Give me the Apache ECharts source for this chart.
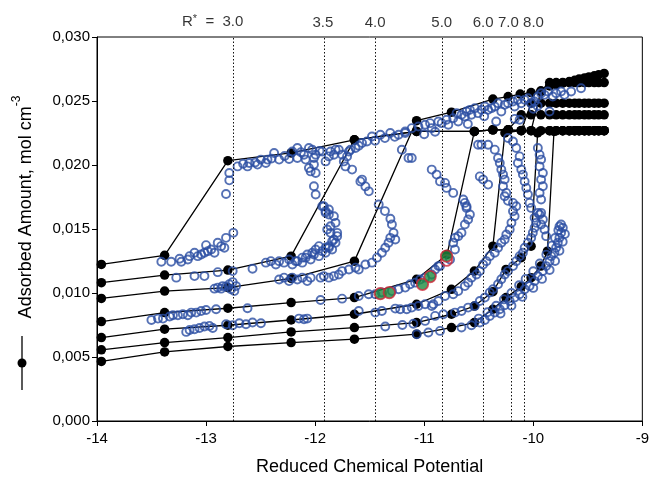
<!DOCTYPE html>
<html><head><meta charset="utf-8">
<script src="https://cdn.jsdelivr.net/npm/echarts@6/dist/echarts.min.js"></script>
<style>html,body{margin:0;padding:0;background:#fff}#c{width:652px;height:481px}</style>
</head><body><div id="c"></div>
<script>
const FONT = 'Liberation Sans, Arial, Helvetica, sans-serif';
// R* values and positions of the dotted lines (reduced chemical potential)
const rStarLabels = ['3.0','3.5','4.0','5.0','6.0','7.0','8.0'];
const rStarMu = [-12.75,-11.92,-11.45,-10.83,-10.46,-10.20,-10.08];
const yTicks = [0,0.005,0.010,0.015,0.020,0.025,0.030];

// Black isotherms (filled markers + line), one per R*
const iso30 = [[-13.96,0.01223],[-13.38,0.01294],[-12.80,0.02034],[-12.22,0.02094],[-11.64,0.02197],[-11.07,0.02262],[-10.54,0.02262],[-10.37,0.02275],[-10.23,0.02275],[-10.11,0.02268],[-10.02,0.02268],[-9.93,0.02268],[-9.85,0.02268],[-9.79,0.02268],[-9.73,0.02268],[-9.67,0.02268],[-9.62,0.02268],[-9.58,0.02268],[-9.53,0.02268],[-9.49,0.02268],[-9.44,0.02268],[-9.40,0.02268],[-9.35,0.02268]];
const iso35 = [[-13.96,0.01081],[-13.38,0.0114],[-12.80,0.01179],[-12.22,0.01288],[-11.64,0.02197],[-11.07,0.02262],[-10.54,0.02262],[-10.37,0.02275],[-10.23,0.02275],[-10.11,0.02392],[-10.02,0.02392],[-9.93,0.02392],[-9.85,0.02392],[-9.79,0.02392],[-9.73,0.02392],[-9.67,0.02392],[-9.62,0.02392],[-9.58,0.02392],[-9.53,0.02392],[-9.49,0.02392],[-9.44,0.02392],[-9.40,0.02392],[-9.35,0.02392]];
const iso40 = [[-13.96,0.00958],[-13.38,0.01015],[-12.80,0.01042],[-12.22,0.01115],[-11.64,0.01249],[-11.07,0.02346],[-10.75,0.02413],[-10.37,0.02515],[-10.23,0.02535],[-10.12,0.02554],[-10.02,0.02566],[-9.93,0.02574],[-9.85,0.02618],[-9.79,0.02628],[-9.73,0.0264],[-9.67,0.02652],[-9.62,0.02662],[-9.58,0.02672],[-9.53,0.0268],[-9.49,0.02688],[-9.44,0.02697],[-9.40,0.02705],[-9.35,0.02715]];
const iso50 = [[-13.96,0.00777],[-13.38,0.00847],[-12.80,0.00881],[-12.22,0.00925],[-11.64,0.00964],[-11.07,0.01107],[-10.79,0.01301],[-10.54,0.02262],[-10.37,0.02275],[-10.23,0.02275],[-10.11,0.02268],[-10.02,0.02268],[-9.93,0.0258],[-9.85,0.02644],[-9.79,0.02644],[-9.73,0.02644],[-9.67,0.02644],[-9.62,0.02644],[-9.58,0.02644],[-9.53,0.02644],[-9.49,0.02644],[-9.44,0.02644],[-9.40,0.02644],[-9.35,0.02644]];
const iso60 = [[-13.96,0.00652],[-13.38,0.00717],[-12.80,0.00748],[-12.22,0.00789],[-11.64,0.00834],[-11.07,0.00912],[-10.75,0.01029],[-10.54,0.01171],[-10.37,0.01366],[-10.26,0.0225],[-10.11,0.0227],[-10.02,0.02483],[-9.93,0.02483],[-9.85,0.02483],[-9.79,0.02483],[-9.73,0.02483],[-9.67,0.02483],[-9.62,0.02483],[-9.58,0.02483],[-9.53,0.02483],[-9.49,0.02483],[-9.44,0.02483],[-9.40,0.02483],[-9.35,0.02483]];
const iso70 = [[-13.96,0.00556],[-13.38,0.00613],[-12.80,0.00652],[-12.22,0.00696],[-11.64,0.0073],[-11.07,0.00769],[-10.75,0.00834],[-10.54,0.00898],[-10.37,0.0101],[-10.25,0.01184],[-10.11,0.01276],[-10.02,0.01366],[-9.96,0.0225],[-9.85,0.02268],[-9.79,0.02268],[-9.73,0.02268],[-9.67,0.02268],[-9.62,0.02268],[-9.58,0.02268],[-9.53,0.02268],[-9.49,0.02268],[-9.44,0.02268],[-9.40,0.02268],[-9.35,0.02268]];
const iso80 = [[-13.96,0.00465],[-13.38,0.0054],[-12.80,0.00582],[-12.22,0.00613],[-11.64,0.00639],[-11.07,0.00678],[-10.75,0.0073],[-10.54,0.00769],[-10.37,0.00873],[-10.25,0.00964],[-10.11,0.0105],[-10.02,0.0112],[-9.93,0.0121],[-9.87,0.01327],[-9.81,0.02262],[-9.73,0.02268],[-9.67,0.02268],[-9.62,0.02268],[-9.58,0.02268],[-9.53,0.02268],[-9.49,0.02268],[-9.44,0.02268],[-9.40,0.02268],[-9.35,0.02268]];

// Blue open circles (simulation points)
const blue30 = [[-13.41,0.01244],[-13.32,0.01244],[-13.243,0.01268],[-13.227,0.01244],[-13.167,0.01262],[-13.151,0.01288],[-13.106,0.01315],[-13.076,0.01288],[-13.045,0.01301],[-13.015,0.01315],[-13.0,0.01374],[-12.984,0.01327],[-12.953,0.0134],[-12.923,0.01315],[-12.893,0.01392],[-12.862,0.01366],[-12.832,0.01353],[-12.817,0.01431],[-12.75,0.0147],[-12.787,0.01938],[-12.787,0.0188],[-12.817,0.01774]];
const blueUpper = [[-12.711,0.01989],[-12.62,0.01989],[-12.604,0.02016],[-12.528,0.02003],[-12.497,0.02042],[-12.452,0.02016],[-12.437,0.02042],[-12.376,0.02094],[-12.33,0.02042],[-12.239,0.02047],[-12.209,0.02106],[-12.163,0.02133],[-12.163,0.02055],[-12.102,0.0208],[-12.087,0.02042],[-12.026,0.02119],[-12.011,0.02055],[-12.011,0.02003],[-11.995,0.0208],[-11.904,0.02028],[-11.859,0.02106],[-11.828,0.0208],[-11.783,0.02119],[-11.737,0.02028],[-11.722,0.01989],[-11.707,0.02067],[-11.676,0.02119],[-11.479,0.02223],[-11.402,0.02236],[-11.311,0.0225],[-11.235,0.02236],[-11.174,0.0225],[-12.057,0.02133],[-11.935,0.02106],[-11.874,0.02067],[-11.813,0.0212],[-11.752,0.0208],[-11.69,0.02106],[-11.63,0.02133],[-11.57,0.02172],[-11.525,0.02184],
[-11.174,0.02262],[-11.114,0.02288],[-11.053,0.02301],[-10.992,0.02314],[-10.946,0.02327],[-10.931,0.02288],[-10.87,0.0234],[-10.84,0.02327],[-10.795,0.02353],[-10.779,0.02314],[-10.734,0.02366],[-10.703,0.02405],[-10.688,0.0234],[-10.658,0.02392],[-10.627,0.02379],[-10.612,0.02418],[-10.581,0.02431],[-10.567,0.02392],[-10.536,0.02444],[-10.506,0.02405],[-10.475,0.02431],[-10.444,0.02457],[-10.414,0.02431],[-10.384,0.02444],[-10.353,0.02457],[-10.323,0.02483],[-10.293,0.02418],[-10.262,0.0247],[-10.232,0.02483],[-10.186,0.02496],[-10.171,0.02457],[-10.141,0.02509],[-10.11,0.02483],[-10.079,0.02509],[-10.049,0.02522],[-10.019,0.02483],[-9.988,0.02496],[-9.958,0.02535],[-9.928,0.02561],[-9.897,0.02548],[-9.867,0.02574],[-9.851,0.02418],[-9.821,0.02535],[-9.791,0.02561],[-9.745,0.02574],[-9.714,0.02548],[-9.653,0.02574],[-9.562,0.026],
[-10.34,0.0234],[-10.17,0.0236],[-10.125,0.02353],[-9.96,0.0246],[-10.0,0.0244],[-10.45,0.0238],[-10.6,0.0232],[-10.9,0.0226],[-11.0,0.0224],
[-12.66,0.0201],[-12.55,0.0202],[-12.40,0.0205],[-12.28,0.0207],[-12.13,0.0210],[-11.96,0.0211],[-11.60,0.0215],[-11.45,0.0219],[-11.36,0.0221],[-11.27,0.0222]];
const blue35 = [[-13.273,0.0112],[-13.106,0.01132],[-13.015,0.01132],[-12.893,0.01163],[-12.756,0.01171],[-12.574,0.0119],[-12.452,0.01237],[-12.406,0.01249],[-12.36,0.01223],[-12.33,0.01249],[-12.285,0.01237],[-12.239,0.01262],[-12.209,0.01223],[-12.163,0.01249],[-12.118,0.01237],[-12.087,0.01276],[-12.041,0.01262],[-12.011,0.01301],[-11.965,0.01288],[-11.935,0.01327],[-11.904,0.01315],[-11.874,0.01354],[-11.844,0.0134],[-11.813,0.01392],[-11.798,0.01444],[-11.859,0.0147],[-11.828,0.01418],[-11.889,0.01496],[-11.813,0.01548],[-11.828,0.016],[-11.874,0.01652],[-11.92,0.01678],[-11.904,0.01626],[-11.859,0.01522],[-11.798,0.0147],[-11.844,0.01405],[-11.874,0.01366],[-11.904,0.01353],[-12.178,0.01249],[-12.118,0.01276],[-12.072,0.01301],[-12.026,0.01315],[-11.995,0.0134],[-11.965,0.01366],
[-12.057,0.01977],[-12.041,0.0195],[-11.995,0.01938],[-12.011,0.01834],[-11.995,0.01769],[-11.935,0.01678],[-11.904,0.01639],[-11.874,0.01613]];
const blue40 = [[-12.923,0.01034],[-12.893,0.01042],[-12.862,0.01034],[-12.848,0.01054],[-12.817,0.0105],[-12.787,0.01068],[-12.771,0.01029],[-12.756,0.01085],[-12.725,0.01054],[-12.741,0.01015],[-12.33,0.01106],[-12.285,0.0112],[-12.239,0.01093],[-12.209,0.0112],[-12.163,0.01106],[-12.118,0.0112],[-12.072,0.01093],[-12.041,0.0112],[-11.95,0.0112],[-11.92,0.01132],[-11.874,0.0112],[-11.828,0.01132],[-11.783,0.01145],[-11.752,0.01171],[-11.69,0.01184],[-11.63,0.01198],[-11.539,0.01223],[-11.6,0.01184],[-11.479,0.01237],[-11.433,0.01276],[-11.388,0.01315],[-11.357,0.01353],[-11.327,0.01392],[-11.311,0.01431],[-11.281,0.0147],[-11.296,0.01535],[-11.265,0.01418],
[-11.661,0.01964],[-11.57,0.01886],[-11.585,0.01872],[-11.539,0.01833],[-11.508,0.01794],[-11.417,0.01691],[-11.36,0.0164],[-11.31,0.0158]];
const blue50 = [[-13.501,0.00789],[-13.441,0.008],[-13.395,0.008],[-13.334,0.00816],[-13.304,0.00826],[-13.258,0.00826],[-13.213,0.00834],[-13.167,0.00826],[-13.136,0.00847],[-13.09,0.00847],[-13.045,0.00859],[-13.0,0.00867],[-12.908,0.00873],[-12.62,0.00881],[-11.95,0.00945],[-11.753,0.00956],[-11.6,0.00976],[-11.509,0.0099],[-11.448,0.0099],[-11.39,0.01005],[-11.296,0.01015],[-11.235,0.01029],[-11.174,0.01042],[-11.129,0.01068],[-11.083,0.01081],[-11.037,0.01106],[-10.992,0.0112],[-10.931,0.01145],[-10.9,0.01184],[-10.87,0.0121],[-10.855,0.0121],[-10.763,0.01262],[-10.718,0.0134],[-10.734,0.01392],[-10.688,0.01444],[-10.658,0.0147],[-10.718,0.01431],[-10.627,0.01535],[-10.597,0.01574],[-10.581,0.01613],[-10.612,0.01665],[-10.627,0.01704],
[-11.205,0.02119],[-11.144,0.02055],[-11.114,0.02055],[-10.931,0.01964],[-10.886,0.01925],[-10.855,0.01872],[-10.809,0.0186],[-10.795,0.01821],[-10.734,0.01782],[-10.642,0.0173],[-10.612,0.01678]];
const blue60 = [[-13.182,0.00696],[-13.151,0.00711],[-13.106,0.00717],[-13.06,0.00727],[-13.015,0.00738],[-12.969,0.00743],[-12.939,0.00727],[-12.817,0.00756],[-12.756,0.00748],[-12.695,0.00764],[-12.634,0.00756],[-12.574,0.00769],[-12.497,0.00764],[-12.148,0.008],[-12.102,0.00795],[-12.072,0.008],[-11.6,0.00859],[-11.448,0.00847],[-11.388,0.00859],[-11.265,0.00878],[-11.22,0.00873],[-11.16,0.00873],[-11.114,0.00886],[-11.053,0.00898],[-10.992,0.00912],[-10.931,0.00898],[-10.916,0.00912],[-10.87,0.00937],[-10.809,0.00976],[-10.734,0.0099],[-10.688,0.01015],[-10.627,0.01054],[-10.597,0.01081],[-10.567,0.0112],[-10.52,0.01145],[-10.49,0.01171],[-10.46,0.01223],[-10.43,0.01249],[-10.399,0.01288],[-10.353,0.01315],[-10.323,0.01353],[-10.293,0.01392],[-10.262,0.01418],[-10.247,0.01457],[-10.216,0.01496],[-10.2,0.01548],[-10.171,0.016],[-10.186,0.01639],[-10.156,0.01678],[-10.186,0.01704],
[-10.475,0.02158],[-10.414,0.02158],[-10.353,0.0212],[-10.323,0.02055],[-10.307,0.02016],[-10.293,0.01964],[-10.277,0.01925],[-10.262,0.01886],[-10.277,0.01834],[-10.247,0.01782],[-10.262,0.01756],[-10.232,0.0172],[-10.506,0.02158],[-10.49,0.01911],[-10.46,0.01886],[-10.414,0.01847]];
const blue70 = [[-11.357,0.00738],[-11.2,0.0075],[-11.1,0.0076],[-10.992,0.00782],[-10.9,0.00821],[-10.825,0.00834],[-10.718,0.00847],[-10.658,0.00859],[-10.597,0.00886],[-10.536,0.00898],[-10.49,0.00937],[-10.444,0.00964],[-10.399,0.01003],[-10.369,0.01029],[-10.323,0.01068],[-10.293,0.01107],[-10.262,0.01145],[-10.232,0.01171],[-10.186,0.0121],[-10.156,0.01249],[-10.125,0.01288],[-10.095,0.01315],[-10.079,0.01353],[-10.049,0.01392],[-10.019,0.01431],[-10.004,0.0147],[-9.988,0.01509],[-9.973,0.01548],[-9.988,0.01587],[-9.958,0.01626],
[-10.232,0.02211],[-10.186,0.02184],[-10.156,0.02133],[-10.125,0.02067],[-10.141,0.02016],[-10.11,0.01964],[-10.095,0.01925],[-10.079,0.01872],[-10.064,0.01821],[-10.049,0.01769],[-10.034,0.01704],[-10.019,0.01665]];
const blue80 = [[-11.068,0.00678],[-10.962,0.00691],[-10.855,0.00704],[-10.658,0.0073],[-10.567,0.00748],[-10.49,0.00769],[-10.444,0.00789],[-10.399,0.0082],[-10.353,0.00847],[-10.307,0.00873],[-10.262,0.00904],[-10.216,0.00937],[-10.171,0.00964],[-10.125,0.0099],[-10.079,0.01029],[-10.034,0.01054],[-9.988,0.01093],[-9.958,0.01132],[-9.912,0.01171],[-9.882,0.0121],[-9.851,0.01249],[-9.836,0.01288],[-9.806,0.01315],[-9.791,0.01353],[-9.775,0.01392],[-9.76,0.01431],[-9.745,0.0147],[-9.729,0.01509],[-9.745,0.01535],
[-10.5,0.008],[-10.42,0.0085],[-10.34,0.009],[-10.27,0.0095],[-10.2,0.01],[-10.13,0.0106],[-10.07,0.0111],[-10.0,0.0117],[-9.94,0.0123],[-9.88,0.013],[-9.83,0.0137],[-9.8,0.0143],[-9.77,0.0149],[-9.76,0.0152],[-10.3,0.0084],[-10.2,0.009],[-10.1,0.0097],[-10.0,0.0104],[-9.92,0.0111],[-9.85,0.0118],[-9.8,0.0125],[-9.76,0.0133],[-9.73,0.014],[-9.71,0.0146],
[-9.958,0.02133],[-9.942,0.02081],[-9.928,0.02042],[-9.942,0.01989],[-9.912,0.01938],[-9.928,0.01886],[-9.912,0.01834],[-9.942,0.01782],[-9.928,0.0173],[-9.928,0.01626],[-9.942,0.01613],[-9.912,0.01574],[-9.928,0.01535],[-9.897,0.01496],[-9.882,0.01444]];

// Highlighted points (green filled, red rim) and one red open circle
const greenPts = [[-11.402,0.00995],[-11.32,0.01003],[-11.016,0.01068],[-10.946,0.01128],[-10.795,0.01288]];
const redOpen = [[-10.795,0.01255]];

const isoSets = [iso30, iso35, iso40, iso50, iso60, iso70, iso80];
const blueSets = [blueUpper, blue30, blue35, blue40, blue50, blue60, blue70, blue80];

const chart = echarts.init(document.getElementById('c'), null, {renderer: 'canvas'});

const series = [];
isoSets.forEach((d, i) => series.push({
  type: 'line', name: 'R* ' + rStarLabels[i], data: d, symbol: 'circle', symbolSize: 9.5,
  itemStyle: {color: '#000'}, lineStyle: {color: '#000', width: 1.3}, z: 2, animation: false
}));
blueSets.forEach(d => series.push({
  type: 'scatter', data: d, symbol: 'circle', symbolSize: 8,
  itemStyle: {color: 'rgba(255,255,255,0)', borderColor: '#2a4ea3', borderWidth: 1.9}, z: 3, animation: false
}));
series.push({
  type: 'scatter', data: redOpen, symbol: 'circle', symbolSize: 11,
  itemStyle: {color: 'rgba(255,255,255,0)', borderColor: '#d0283a', borderWidth: 1.8}, z: 4, animation: false
});
series.push({
  type: 'scatter', data: greenPts, symbol: 'circle', symbolSize: 11.5,
  itemStyle: {color: '#1e8c40', borderColor: '#d0283a', borderWidth: 1.8}, z: 5, animation: false
});
// Dotted vertical lines at R* positions
series.push({
  type: 'scatter', data: [], z: 1, animation: false,
  markLine: {
    silent: true, symbol: 'none', animation: false,
    label: {show: false},
    lineStyle: {color: '#111', type: [1.5, 2], width: 1},
    data: rStarMu.map(v => ({xAxis: v}))
  }
});
// Top labels
const labelOffsets = [[10,0],[-1,0],[0,0],[-1,0],[0,0],[-3,0],[9,0]];
series.push({
  type: 'scatter', symbolSize: 0, clip: false, z: 6, animation: false, silent: true,
  data: rStarMu.map((v, i) => ({
    value: [v, 0.03],
    label: {
      show: true, position: 'top', distance: 7, offset: labelOffsets[i],
      align: i === 0 ? 'right' : 'center',
      formatter: i === 0 ? '{t|R}{s|*}{t|  =  ' + rStarLabels[i] + '}' : '{t|' + rStarLabels[i] + '}',
      rich: {
        t: {fontSize: 15, fontFamily: FONT, color: '#000'},
        s: {fontSize: 11, fontFamily: FONT, color: '#000', verticalAlign: 'top', padding: [0, 0, 6, 0]}
      }
    }
  }))
});

chart.setOption({
  animation: false,
  backgroundColor: '#fff',
  grid: {left: 97, right: 7, top: 37, bottom: 59, show: true, borderColor: '#000', borderWidth: 1},
  xAxis: {
    type: 'value', min: -14, max: -9, interval: 1,
    axisLine: {show: true, onZero: false, lineStyle: {color: '#000', width: 1}},
    axisTick: {show: true, inside: false, length: 5, lineStyle: {color: '#000'}},
    axisLabel: {fontSize: 15, fontFamily: FONT, color: '#000', margin: 10},
    splitLine: {show: false},
    name: 'Reduced Chemical Potential', nameLocation: 'middle', nameGap: 37,
    nameTextStyle: {fontSize: 18, fontFamily: FONT, color: '#000'}
  },
  yAxis: {
    type: 'value', min: yTicks[0], max: yTicks[yTicks.length - 1], interval: 0.005,
    axisLine: {show: true, lineStyle: {color: '#000', width: 1}},
    axisTick: {show: true, inside: false, length: 5, lineStyle: {color: '#000'}},
    axisLabel: {fontSize: 15, fontFamily: FONT, color: '#000', margin: 7,
      formatter: v => v.toFixed(3).replace('.', ',')},
    splitLine: {show: false}
  },
  graphic: [
    {
      type: 'text', x: 23, y: 207, rotation: Math.PI / 2, silent: true,
      style: {
        text: '{a|Adsorbed Amount, mol cm}{s|-3}', align: 'center', verticalAlign: 'middle',
        rich: {
          a: {fontSize: 18, fontFamily: FONT, fill: '#000', lineHeight: 24, verticalAlign: 'bottom'},
          s: {fontSize: 12, fontFamily: FONT, fill: '#000', lineHeight: 24, verticalAlign: 'top'}
        }
      }
    },
    {type: 'line', silent: true, shape: {x1: 22, y1: 336, x2: 22, y2: 390}, style: {stroke: '#000', lineWidth: 1.3}},
    {type: 'circle', silent: true, shape: {cx: 22, cy: 363, r: 4.5}, style: {fill: '#000'}}
  ],
  series: series
});
</script></body></html>
